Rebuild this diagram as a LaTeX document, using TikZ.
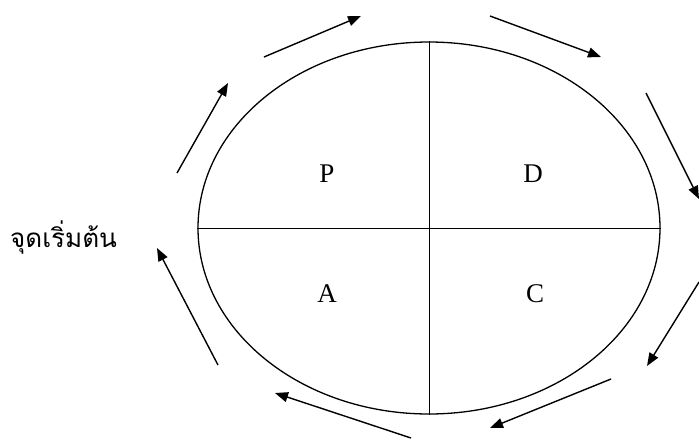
\documentclass[tikz,border=0pt]{standalone}
\usepackage{fontspec}
\setmainfont{Liberation Serif}
\newfontfamily\thaifont[Script=Thai]{Loma}
\usetikzlibrary{arrows.meta,shapes.geometric}

\begin{document}
\begin{tikzpicture}[
    x=1pt, y=-1pt,
    cyc/.style={
      draw, ellipse, line width=1.3pt, inner sep=0pt,
      minimum width=462pt, minimum height=372pt
    },
    part/.style={font=\fontsize{27}{30}\selectfont},
    arr/.style={-{Triangle[length=13pt,width=10pt]}, line width=1.4pt}
  ]
    \useasboundingbox (0,0) rectangle (699,440);

    % PDCA cycle
    \node[cyc] (cycle) at (429,228) {};
    \draw[line width=1pt] (cycle.north) -- (cycle.south);
    \draw[line width=1pt] (cycle.west) -- (cycle.east);

    \node[part] (p) at (327,174) {P};
    \node[part] (d) at (533,174) {D};
    \node[part] (a) at (327,294) {A};
    \node[part] (c) at (535,294) {C};

    \node[anchor=west, inner sep=0pt, font=\thaifont\fontsize{26}{30}\selectfont] (start) at (10,238) {จุดเริ่มต้น};

    % arrows around the cycle
    \coordinate (s1) at (177,173); \coordinate (e1) at (228,83);
    \coordinate (s2) at (264,57);  \coordinate (e2) at (361,16);
    \coordinate (s3) at (490,16);  \coordinate (e3) at (601,57);
    \coordinate (s4) at (646,93);  \coordinate (e4) at (699,199);
    \coordinate (s5) at (699,282); \coordinate (e5) at (647,366);
    \coordinate (s6) at (611,379); \coordinate (e6) at (490,428);
    \coordinate (s7) at (411,438); \coordinate (e7) at (275,393);
    \coordinate (s8) at (218,365); \coordinate (e8) at (157,248);

    \foreach \i in {1,...,8}
      \draw[arr] (s\i) -- (e\i);
  \end{tikzpicture}
\end{document}
